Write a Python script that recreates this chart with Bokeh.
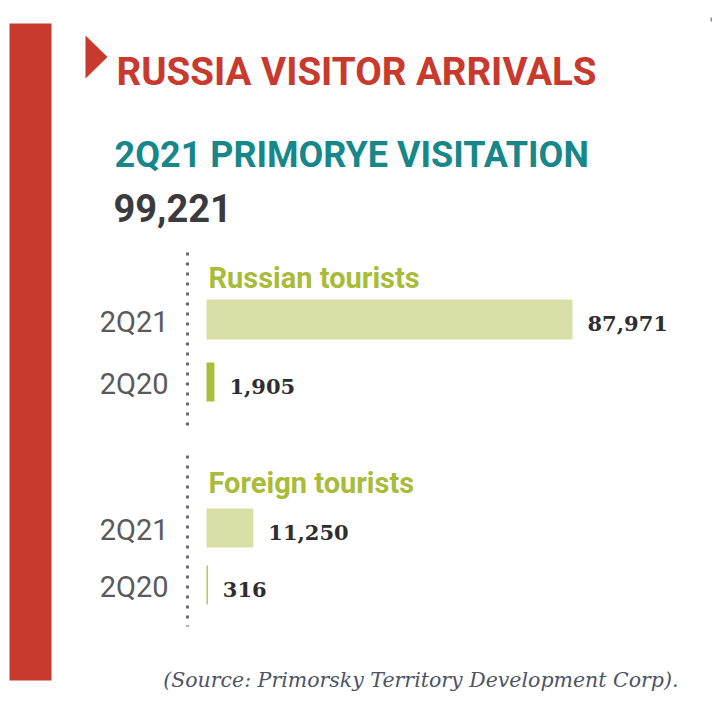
from bokeh.plotting import figure
from bokeh.models import Range1d, ColumnDataSource
from bokeh.core.properties import value
from bokeh.embed import file_html
from bokeh.resources import INLINE

# ---- data ----
title = "RUSSIA VISITOR ARRIVALS"
subtitle = "2Q21 PRIMORYE VISITATION"
total_visits = 99221
groups = ["Russian tourists", "Foreign tourists"]
periods = ["2Q21", "2Q20"]
russian_values = [87971, 1905]
foreign_values = [11250, 316]
source_note = "(Source: Primorsky Territory Development Corp)."

# ---- style ----
RED = "#c8392e"
TEAL = "#17878a"
DARK = "#3b3b3d"
GREEN_TXT = "#a8bc3a"
BAR_LIGHT = "#d9dfa7"
BAR_DARK = "#a9bf3b"
GRAY = "#5a5a5e"
COND = "Roboto"

W, H = 712, 710
BAR_LEFT_PX, BAR_MAX_PX = 206, 572
vmax = max(russian_values + foreign_values)
scale = (BAR_MAX_PX - BAR_LEFT_PX) / vmax
val_start = -BAR_LEFT_PX / scale
val_end = val_start + W / scale

p = figure(width=W, height=H, x_range=Range1d(0, W), y_range=Range1d(H, 0),
           output_backend="svg", toolbar_location=None, min_border=0)
p.extra_x_ranges = {"val": Range1d(val_start, val_end)}
p.axis.visible = False
p.grid.visible = False
p.outline_line_color = None
p.background_fill_color = "white"
p.border_fill_color = "white"

# left red band
p.quad(left=9, right=51, top=23, bottom=680, fill_color=RED, line_color=None)
# title triangle
p.patch(x=[85, 107, 85], y=[35, 56.5, 78], fill_color=RED, line_color=None)
# tiny corner mark
p.segment(x0=[711], y0=[17], x1=[711], y1=[21], line_color="#8a8a8a", line_width=2)

p.text(x=[116], y=[71], text=[title], text_font=value(COND), text_font_style="bold",
       text_font_size="38.5px", text_color=RED, text_baseline="alphabetic")
p.text(x=[114], y=[154], text=[subtitle], text_font=value(COND), text_font_style="bold",
       text_font_size="36px", text_color=TEAL, text_baseline="alphabetic")
p.text(x=[113], y=[207], text=[f"{total_visits:,}"], text_font=value(COND),
       text_font_style="bold", text_font_size="38px", text_color=DARK,
       text_baseline="alphabetic")

# dotted separators
p.segment(x0=[187, 187], y0=[252, 455], x1=[187, 187], y1=[429, 626],
          line_color="#6a6a6e", line_width=3, line_dash="3 7")

group_title_y = [277, 482]
bar_y = [[319, 381.5], [527.5, 584.5]]
bar_h = [[40, 39], [39, 39]]
all_vals = [russian_values, foreign_values]

for gi, g in enumerate(groups):
    p.text(x=[208], y=[group_title_y[gi]], text=[g], text_font=value(COND),
           text_font_style="bold", text_font_size="29px", text_color=GREEN_TXT,
           text_baseline="alphabetic")
    vals = all_vals[gi]
    src = ColumnDataSource(dict(
        y=bar_y[gi], h=bar_h[gi], v=vals, lab=[f"{v:,}" for v in vals],
        per=periods, c=[BAR_LIGHT, BAR_DARK]))
    p.hbar(y="y", left=0, right="v", height="h", fill_color="c", line_color=None,
           source=src, x_range_name="val")
    p.text(x="v", y="y", text="lab", x_range_name="val", source=src, x_offset=15, y_offset=4,
           text_font=value("DejaVu Serif"), text_font_style="bold", text_font_size="21px",
           text_color="#2e2e30", text_baseline="middle")
    p.text(x=168, y="y", text="per", source=src, text_align="right", text_baseline="middle",
           y_offset=2, text_font=value(COND), text_font_size="29px", text_color=GRAY)

p.text(x=[678], y=[679], text=[source_note], text_align="right", text_baseline="alphabetic",
       text_font=value("DejaVu Serif"), text_font_style="italic", text_font_size="20.5px",
       text_color="#4d5462")

open("out.html", "w").write(file_html(p, INLINE))
